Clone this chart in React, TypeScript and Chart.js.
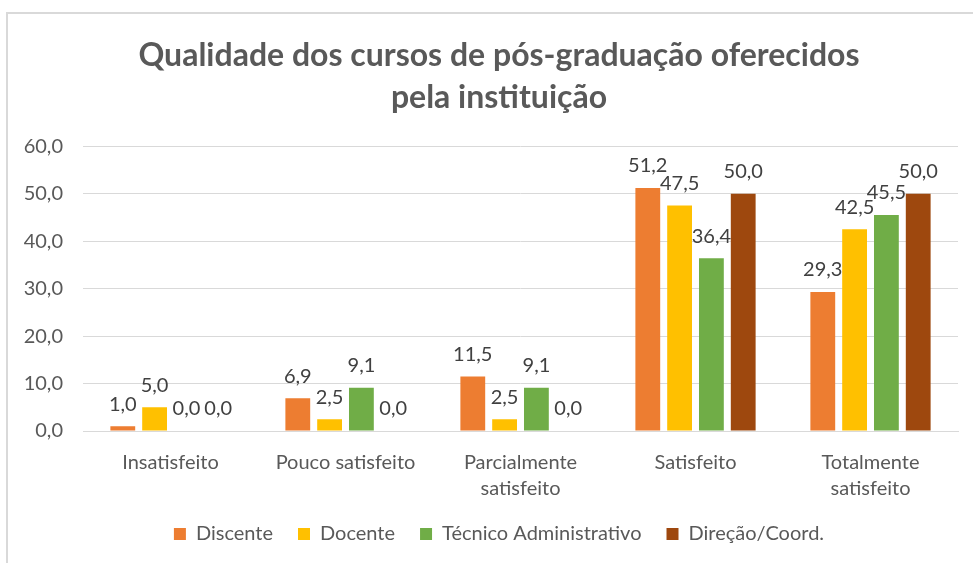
import React, { useEffect, useRef } from "react";
import { Chart, registerables } from "chart.js";

Chart.register(...registerables);

const titleLines = ["Qualidade dos cursos de pós-graduação oferecidos", "pela instituição"];
const categories = [["Insatisfeito"], ["Pouco satisfeito"], ["Parcialmente", "satisfeito"], ["Satisfeito"], ["Totalmente", "satisfeito"]];
const seriesNames = ["Discente", "Docente", "Técnico Administrativo", "Direção/Coord."];
const discente = [1.0, 6.9, 11.5, 51.2, 29.3];
const docente = [5.0, 2.5, 2.5, 47.5, 42.5];
const tecnico = [0.0, 9.1, 9.1, 36.4, 45.5];
const direcao = [0.0, 0.0, 0.0, 50.0, 50.0];
const colors = ["#ED7D31", "#FFC000", "#70AD47", "#9E480E"];
const yTicksMax = 60;
const yTicksStep = 10;

const FONT = "Lato, 'Open Sans', sans-serif";
const fmt = (v: number) => v.toFixed(1).replace(".", ",");

const labelPlugin = {
  id: "barLabels",
  afterDatasetsDraw(chart: any) {
    const ctx = chart.ctx;
    ctx.save();
    ctx.font = `20px ${FONT}`;
    ctx.fillStyle = "#404040";
    ctx.textAlign = "center";
    ctx.textBaseline = "middle";
    chart.data.datasets.forEach((ds: any, i: number) => {
      const meta = chart.getDatasetMeta(i);
      meta.data.forEach((el: any, j: number) => {
        ctx.fillText(fmt(ds.data[j]), el.x, el.y - 22);
      });
    });
    ctx.restore();
  },
};

export default function App() {
  const ref = useRef<HTMLCanvasElement>(null);
  useEffect(() => {
    const datasetsData = [discente, docente, tecnico, direcao];
    const chart = new Chart(ref.current!, {
      type: "bar",
      data: {
        labels: categories,
        datasets: datasetsData.map((d, i) => ({
          label: seriesNames[i],
          data: d,
          backgroundColor: colors[i],
          borderWidth: 0,
          categoryPercentage: 0.727,
          barPercentage: 0.78,
        })),
      },
      options: {
        animation: false,
        responsive: false,
        maintainAspectRatio: false,
        layout: { padding: { left: 0, right: 0, top: 0, bottom: 9 } },
        plugins: {
          title: {
            display: true,
            text: titleLines,
            color: "#595959",
            font: { family: FONT, size: 32, weight: "bold", lineHeight: 1.3 },
            padding: { top: 35, bottom: 28 },
          },
          legend: {
            position: "bottom",
            labels: {
              color: "#595959",
              font: { family: FONT, size: 20 },
              boxWidth: 12,
              boxHeight: 12,
              padding: 25,
            },
          },
          tooltip: { enabled: false },
        },
        scales: {
          x: {
            afterFit(scale: any) {
              scale.height = 68;
            },
            grid: { display: false, drawTicks: false },
            border: { display: true, color: "#d9d9d9", width: 1 },
            ticks: { color: "#595959", font: { family: FONT, size: 20, lineHeight: 1.3 }, padding: 19, maxRotation: 0 },
          },
          y: {
            min: 0,
            max: yTicksMax,
            afterFit(scale: any) {
              scale.width = 83;
            },
            grid: { color: "#d9d9d9", lineWidth: 1, drawTicks: false },
            border: { display: false },
            ticks: {
              stepSize: yTicksStep,
              color: "#595959",
              font: { family: FONT, size: 20 },
              padding: 20,
              callback: (v: any) => fmt(Number(v)),
            },
          },
          yRightSpace: {
            position: "right",
            display: true,
            afterFit(scale: any) {
              scale.width = 40;
            },
            grid: { display: false, drawTicks: false },
            border: { display: false },
            ticks: { display: false },
          },
        },
      },
      plugins: [labelPlugin],
    });
    return () => chart.destroy();
  }, []);
  return (
    <div style={{ position: "absolute", left: 0, top: 0, width: 973, height: 563, background: "#fff", overflow: "hidden" }}>
      <div style={{ position: "absolute", left: 6, top: 12, width: 1000, height: 600, border: "2px solid #d9d9d9", boxSizing: "border-box" }} />
      <canvas ref={ref} width={998} height={563} style={{ position: "absolute", left: 0, top: 0 }} />
    </div>
  );
}
